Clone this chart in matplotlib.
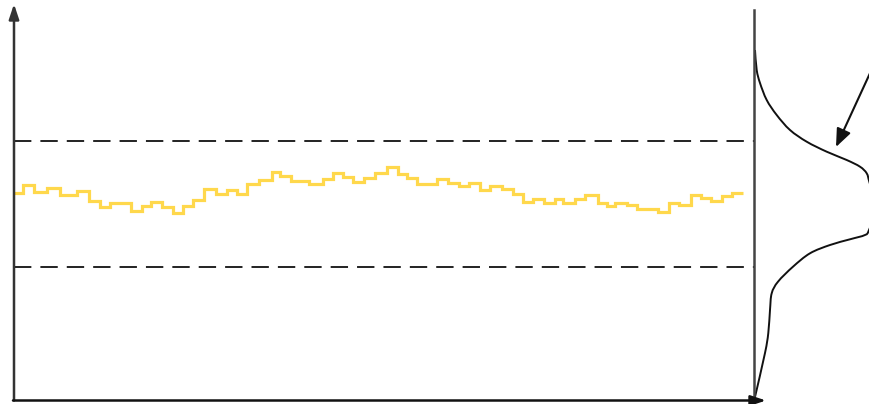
import matplotlib
matplotlib.use("Agg")
import matplotlib.pyplot as plt
from matplotlib.path import Path
from matplotlib.patches import PathPatch
import numpy as np

# Process signal: step boundaries (time) and held level for each step
step_edges = [14, 23, 34, 47, 60, 77, 89, 100, 110, 131, 142, 151, 162, 173, 183,
              193, 204, 216, 227, 237, 247, 259, 272, 280, 291, 309, 323, 333, 343,
              353, 364, 375, 387, 398, 407, 417, 437, 448, 459, 469, 480, 490, 502,
              513, 523, 533, 544, 555, 563, 575, 585, 598, 607, 615, 627, 637, 658,
              669, 679, 691, 701, 711, 722, 732, 743]
step_levels = [211.3, 219.0, 212.3, 215.7, 209.0, 213.0, 203.3, 197.3, 200.7, 193.3,
               198.0, 201.7, 197.3, 191.3, 198.3, 204.0, 214.7, 210.0, 214.0, 210.0,
               220.0, 224.0, 232.3, 228.3, 223.3, 220.0, 225.0, 230.7, 226.7, 221.7,
               226.0, 230.7, 236.7, 230.0, 225.7, 220.0, 224.7, 220.7, 218.0, 221.3,
               214.0, 218.3, 214.7, 210.0, 202.3, 204.7, 200.7, 204.7, 201.3, 205.0,
               209.0, 201.3, 198.0, 201.3, 199.0, 194.7, 191.7, 201.3, 199.0, 209.0,
               205.7, 203.3, 208.0, 210.7]

# Control limits
upper_limit = 263
lower_limit = 137

# Distribution on the right: value vs. density
dist_values = [354, 334, 321, 304, 289, 274, 262.3, 252.3, 244, 237.3, 230.7, 222.3,
               207.3, 199, 174, 169, 164.7, 159, 150.7, 137.3, 122.3, 110.7, 94, 71,
               51, 7]
dist_density = [1, 2.7, 6, 12.7, 22.7, 36, 52.7, 72.7, 92.7, 106, 112.7, 115.3,
                120, 124, 115, 111, 96, 76, 56, 39, 24, 17.7, 16, 14.3, 11, 1]

dist_base = 754


def smooth_path(xs, ys):
    """Cubic Bezier path through the given points (Catmull-Rom tangents)."""
    pts = np.column_stack([xs, ys]).astype(float)
    verts = [pts[0]]
    codes = [Path.MOVETO]
    n = len(pts)
    for i in range(n - 1):
        p0 = pts[i - 1] if i > 0 else pts[i]
        p1, p2 = pts[i], pts[i + 1]
        p3 = pts[i + 2] if i + 2 < n else pts[i + 1]
        c1 = p1 + (p2 - p0) / 6.0
        c2 = p2 - (p3 - p1) / 6.0
        verts += [c1, c2, p2]
        codes += [Path.CURVE4] * 3
    return Path(verts, codes)


fig = plt.figure(figsize=(8.7, 4.04), dpi=100)
fig.patch.set_facecolor("white")
ax = fig.add_axes([0, 0, 1, 1])
ax.set_xlim(0, 870)
ax.set_ylim(0, 404)
ax.axis("off")

axis_col = "#333333"

# Axes with arrow heads
ax.annotate("", xy=(14, 400), xytext=(14, 3.5),
            arrowprops=dict(arrowstyle="-|>,head_length=0.9,head_width=0.3",
                            color=axis_col, lw=1.8, shrinkA=0, shrinkB=0))
ax.annotate("", xy=(766, 3.5), xytext=(13, 3.5),
            arrowprops=dict(arrowstyle="-|>,head_length=0.9,head_width=0.3",
                            color="#111111", lw=1.8, shrinkA=0, shrinkB=0))

# Control limit lines
lw_d = 1.3
for lim in (upper_limit, lower_limit):
    ax.plot([14, dist_base], [lim, lim], color="#111111", lw=lw_d,
            linestyle=(0, (12.5 / lw_d, 6.5 / lw_d)), solid_capstyle="butt")

# Process signal
ax.stairs(step_levels, step_edges, baseline=None, color="#FFD84C", lw=2.3)

# Distribution baseline and curve
ax.plot([dist_base, dist_base], [7, 394], color="#444444", lw=1.8)
curve = smooth_path(dist_base + np.array(dist_density), dist_values)
ax.add_patch(PathPatch(curve, facecolor="none", edgecolor="#111111", lw=1.4))

# Pointer to the distribution
ax.annotate("", xy=(836, 257), xytext=(871, 333),
            arrowprops=dict(arrowstyle="-|>,head_length=1.1,head_width=0.45",
                            color="#111111", lw=1.5, shrinkA=0, shrinkB=0))

fig.savefig("out.png", dpi=100, facecolor="white")
